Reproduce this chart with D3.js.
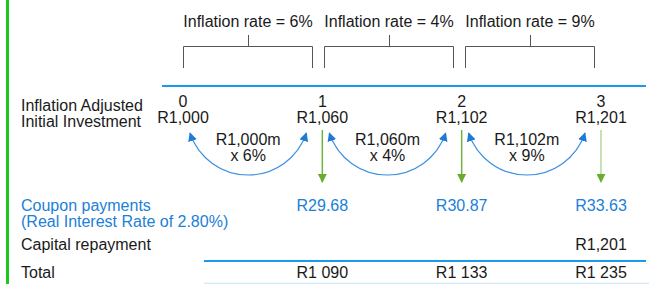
<!DOCTYPE html>
<html>
<head>
<meta charset="utf-8">
<script src="https://cdn.jsdelivr.net/npm/d3@7"></script>
<style>
  body { margin: 0; background: #fff; }
  text { font-family: "Liberation Sans", Arial, sans-serif; font-size: 16px; fill: #1a1a1a; }
  .blue { fill: #2080d8; }
</style>
</head>
<body>
<div id="chart"></div>
<script>
// values
const periods = [0, 1, 2, 3];
const principal = [1000, 1060, 1102, 1201];
const inflationRates = [6, 4, 9];
const coupons = [29.68, 30.87, 33.63];
const capitalRepayment = 1201;
const totals = [1090, 1133, 1235];

const width = 649, height = 284;

const svg = d3.select("#chart")
    .append("svg")
    .attr("width", width)
    .attr("height", height);

const fmtComma = d3.format(",");
const fmtSpace = d3.formatLocale({decimal: ".", thousands: " ", grouping: [3], currency: ["R", ""]}).format(",");

const x = d3.scalePoint()
    .domain(periods)
    .range([183, 601]);

const band = d3.scaleBand()
    .domain(inflationRates.map((d, i) => i))
    .range([183, 595])
    .paddingInner(0.078);

// green bar on the left
svg.append("rect")
    .attr("x", 6).attr("y", 0)
    .attr("width", 3).attr("height", height)
    .style("fill", "#1dc81d");

// markers
const defs = svg.append("defs");
defs.append("marker")
    .attr("id", "blueHead")
    .attr("markerUnits", "userSpaceOnUse")
    .attr("viewBox", "0 0 10 10")
    .attr("refX", 9).attr("refY", 5)
    .attr("markerWidth", 9).attr("markerHeight", 9)
    .attr("orient", "auto-start-reverse")
    .append("path")
    .attr("d", "M0,0L10,5L0,10Z")
    .style("fill", "#1f7ad6");

defs.append("marker")
    .attr("id", "greenHead")
    .attr("markerUnits", "userSpaceOnUse")
    .attr("viewBox", "0 0 10 10")
    .attr("refX", 9).attr("refY", 5)
    .attr("markerWidth", 9).attr("markerHeight", 9)
    .attr("orient", "auto")
    .append("path")
    .attr("d", "M0,0L10,5L0,10Z")
    .style("fill", "#6aad2c");

// brackets with inflation rates
const brackets = svg.selectAll(".bracket")
    .data(inflationRates)
    .enter()
    .append("g")
    .attr("class", "bracket");

brackets.append("path")
    .attr("d", (d, i) => {
        const x0 = band(i) + 0.5, x1 = band(i) + band.bandwidth() - 0.5, cx = Math.round(band(i) + band.bandwidth() / 2) + 0.5;
        return `M${x0},68V46.5H${x1}V68M${cx},46.5V35`;
    })
    .style("fill", "none")
    .style("stroke", "#555")
    .style("stroke-width", 1);

brackets.append("text")
    .attr("x", (d, i) => band(i) + band.bandwidth() / 2)
    .attr("y", 27)
    .attr("text-anchor", "middle")
    .text(d => `Inflation rate = ${d}%`);

// timeline line
svg.append("line")
    .attr("x1", 162).attr("x2", 646)
    .attr("y1", 86).attr("y2", 86)
    .style("stroke", "#1a9aea")
    .style("stroke-width", 2.2);

// left labels
const leftLabels = [
    {lines: ["Inflation Adjusted", "Initial Investment"], y: 111, cls: ""},
    {lines: ["Coupon payments", "(Real Interest Rate of 2.80%)"], y: 211, cls: "blue"},
    {lines: ["Capital repayment"], y: 250, cls: ""},
    {lines: ["Total"], y: 278, cls: ""}
];
leftLabels.forEach(l => {
    const t = svg.append("text").attr("class", l.cls).attr("x", 21).attr("y", l.y);
    l.lines.forEach((s, i) => {
        t.append("tspan").attr("x", 21).attr("dy", i === 0 ? 0 : 16).text(s);
    });
});

// period numbers and adjusted values
svg.selectAll(".period")
    .data(periods)
    .enter()
    .append("text")
    .attr("x", d => x(d))
    .attr("y", 107)
    .attr("text-anchor", "middle")
    .text(d => d);

svg.selectAll(".adjusted")
    .data(principal)
    .enter()
    .append("text")
    .attr("x", (d, i) => x(periods[i]))
    .attr("y", 123)
    .attr("text-anchor", "middle")
    .text(d => "R" + fmtComma(d));

// curved arrows between periods
const arcTop = 133, arcDepth = 42;
const arcStart = i => x(periods[i]) + 7,
      arcEnd = i => x(periods[i + 1]) - 16;

const arcs = svg.selectAll(".arc")
    .data(inflationRates)
    .enter()
    .append("g");

arcs.append("path")
    .attr("d", (d, i) => {
        const x0 = arcStart(i), x1 = arcEnd(i);
        const h = (x1 - x0) / 2;
        const r = (h * h + arcDepth * arcDepth) / (2 * arcDepth);
        return `M${x0},${arcTop}A${r},${r} 0 0 0 ${x1},${arcTop}`;
    })
    .style("fill", "none")
    .style("stroke", "#3a8fe0")
    .style("stroke-width", 1.2)
    .attr("marker-start", "url(#blueHead)")
    .attr("marker-end", "url(#blueHead)");

const arcText = arcs.append("text")
    .attr("y", 145)
    .attr("text-anchor", "middle");

arcText.append("tspan")
    .attr("x", (d, i) => (arcStart(i) + arcEnd(i)) / 2)
    .text((d, i) => "R" + fmtComma(principal[i]) + "m");

arcText.append("tspan")
    .attr("x", (d, i) => (arcStart(i) + arcEnd(i)) / 2)
    .attr("dy", 15.5)
    .text(d => `x ${d}%`);

// green down arrows to coupons
svg.selectAll(".down")
    .data(coupons)
    .enter()
    .append("line")
    .attr("x1", (d, i) => x(periods[i + 1]))
    .attr("x2", (d, i) => x(periods[i + 1]))
    .attr("y1", 130)
    .attr("y2", 182)
    .style("stroke", (d, i) => i === 2 ? "#b3d99a" : "#6db33f")
    .style("stroke-width", 1.5)
    .attr("marker-end", "url(#greenHead)");

// coupon values
svg.selectAll(".coupon")
    .data(coupons)
    .enter()
    .append("text")
    .attr("class", "blue")
    .attr("x", (d, i) => x(periods[i + 1]))
    .attr("y", 211)
    .attr("text-anchor", "middle")
    .text(d => "R" + d.toFixed(2));

// capital repayment
svg.append("text")
    .attr("x", x(periods[3]))
    .attr("y", 250)
    .attr("text-anchor", "middle")
    .text("R" + fmtComma(capitalRepayment));

// total rules
svg.append("line")
    .attr("x1", 204).attr("x2", 646)
    .attr("y1", 261).attr("y2", 261)
    .style("stroke", "#1a9aea")
    .style("stroke-width", 2);

svg.append("line")
    .attr("x1", 204).attr("x2", 649)
    .attr("y1", 283.5).attr("y2", 283.5)
    .style("stroke", "#cfe8f8")
    .style("stroke-width", 1.5);

// totals
svg.selectAll(".total")
    .data(totals)
    .enter()
    .append("text")
    .attr("x", (d, i) => x(periods[i + 1]))
    .attr("y", 278)
    .attr("text-anchor", "middle")
    .text(d => "R" + fmtSpace(d));
</script>
</body>
</html>
